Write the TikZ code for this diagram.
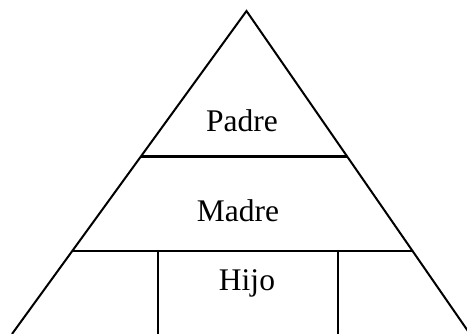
\documentclass[tikz,border=0pt]{standalone}
\usepackage{fontspec}
\setmainfont{Liberation Serif}
\begin{document}
\begin{tikzpicture}[x=1pt,y=-1pt,
  edge/.style={line width=2pt},
  band/.style={line width=2.4pt},
  lbl/.style={anchor=base,inner sep=0pt,font=\fontsize{31.5}{36}\selectfont}]
\useasboundingbox (0,0) rectangle (467,334);
\begin{scope}
\clip (0,0) rectangle (467,334);
\coordinate (apex) at (246.5,11);
\coordinate (bl) at (12,334);
\coordinate (br) at (470,334);
\draw[edge,line join=miter] (bl) -- (apex) -- (br);
\coordinate (p1) at (141,156.5);
\coordinate (p2) at (347,156.5);
\draw[band] (p1) -- (p2);
\coordinate (m1) at (73,251);
\coordinate (m2) at (413,251);
\draw[band] (m1) -- (m2);
\coordinate (v1) at (157.5,251);
\coordinate (v1b) at (157.5,334);
\coordinate (v2) at (337.5,251);
\coordinate (v2b) at (337.5,334);
\draw[edge] (v1) -- (v1b);
\draw[edge] (v2) -- (v2b);
\end{scope}
\node[lbl] (padre) at (242,132) {Padre};
\node[lbl] (madre) at (238,222) {Madre};
\node[lbl] (hijo) at (247,291) {Hijo};
\end{tikzpicture}
\end{document}
